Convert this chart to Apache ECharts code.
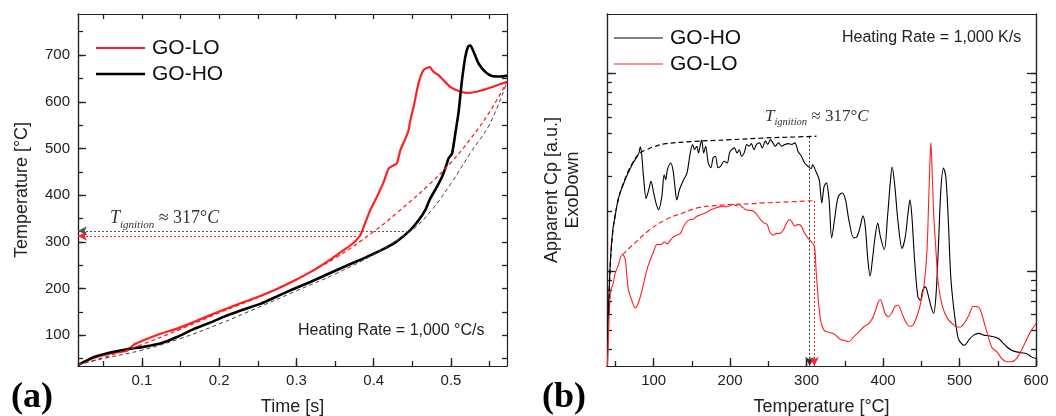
<!DOCTYPE html>
<html><head><meta charset="utf-8">
<script src="https://cdn.jsdelivr.net/npm/echarts@6/dist/echarts.min.js"></script>
<style>html,body{margin:0;padding:0;background:#fff}#c{width:1056px;height:416px}</style>
</head><body><div id="c"></div>
<script>
// ---------- Panel (a): temperature vs time ----------
const loTime = [0.0172,0.0373,0.059,0.0806,0.09,0.102,0.1237,0.1453,0.1668,0.1884,0.21,0.2315,0.2531,0.2748,0.2962,0.3179,0.3394,0.361,0.374,0.3826,0.387,0.3955,0.404,0.4128,0.4193,0.4257,0.430,0.4344,0.441,0.4451,0.4473,0.4516,0.458,0.4645,0.4723,0.4775,0.484,0.4904,0.499,0.51,0.5207,0.5315,0.5466,0.564,0.5725];
const loTemp = [37,51,61,67,80,89,103,114,128,143,157,171,184,199,216,235,257,282,298,314,332,368,396,428,457,464,468,496,521,539,560,589,640,668,674,664,657,646,632,623,619,621,628,638,643];
const hoTime = [0.0172,0.0373,0.059,0.0806,0.102,0.1237,0.1453,0.1668,0.1884,0.21,0.2315,0.2531,0.2748,0.2962,0.3179,0.3394,0.361,0.3848,0.4085,0.430,0.4473,0.458,0.4667,0.4732,0.4819,0.4883,0.4926,0.4969,0.5013,0.5056,0.51,0.5142,0.5185,0.522,0.525,0.5293,0.5357,0.5444,0.553,0.5638,0.5725];
const hoTemp = [36,53,63,70,75,82,96,113,127,142,155,167,183,199,214,230,246,263,281,301,325,346,368,393,418,439,457,479,489,532,580,646,696,718,721,707,682,664,655,654,656];
const loFitTime = [0.0172,0.05,0.1,0.15,0.2,0.25,0.3,0.35,0.4,0.43,0.47,0.5,0.525,0.55,0.5725];
const loFitTemp = [37,52,80,113,148,181,220,265,322,362,420,470,520,578,643];
const hoFitTime = [0.0172,0.05,0.1,0.15,0.2,0.25,0.3,0.35,0.4,0.45,0.475,0.5,0.525,0.55,0.5725];
const hoFitTemp = [37,50,68,93,124,159,195,231,273,326,368,425,490,552,643];
const ignitionHO = {temp: 323.6, time: 0.447};
const ignitionLO = {temp: 312.5, time: 0.379};
const timeTicks = [0.1,0.2,0.3,0.4,0.5];
const timeAll = [0.05,0.1,0.15,0.2,0.25,0.3,0.35,0.4,0.45,0.5,0.55];
const tempTicks = [100,200,300,400,500,600,700];
const tempAll = [50,100,150,200,250,300,350,400,450,500,550,600,650,700,750];
const timeRange = [0.0172, 0.5725];
const tempRange = [34, 788];

// ---------- Panel (b): apparent Cp vs temperature ----------
const hoCpT = [39.5,40.6,42.3,44.0,46.6,49.6,52.6,56.0,60.3,64.5,68.8,73.1,77.3,80.8,82.5,84.2,86.7,90.2,93.6,96.6,99.6,103.0,106.4,110.7,113.7,115.8,118.0,122.2,125.2,127.8,130.3,133.8,139.3,143.6,147.9,150.9,153.4,156.4,158.6,160.7,162.8,165.4,168.0,171.4,174.8,177.8,180.8,184.2,187.6,191.9,196.2,199.2,202.1,205.6,209.0,212.0,215.0,218.4,221.8,224.8,227.8,231.2,234.6,238.5,241.9,246.2,249.2,252.6,256.0,259.0,263.3,267.5,271.8,276.1,280.4,284.6,288.9,293.2,297.5,301.7,306.0,308.0,312.2,316.5,319.9,322.9,325.9,329.4,332.8,337.1,341.4,346.6,350.9,355.2,361.6,365.9,370.2,373.7,376.7,380.1,383.1,386.1,389.6,393.0,396.5,401.6,405.9,409.4,411.9,415.4,419.7,424.8,429.1,432.6,435.2,437.7,441.2,445.5,448.9,451.9,455.4,458.4,462.7,466.1,469.1,472.2,475.6,479.0,482.0,485.1,488.5,492.8,498.0,502.3,506.6,512.1,518.6,525.1,531.5,538.0,544.4,550.9,555.2,561.6,568.1,574.5,581.0,587.4,593.9,600];
const hoCp = [0.33,0.56,0.90,1.23,1.61,1.89,2.21,2.48,2.74,3.01,3.26,3.52,3.74,3.96,4.25,3.96,3.01,2.33,2.58,2.84,2.53,2.21,2.04,2.38,3.07,2.90,3.26,3.52,3.26,2.68,2.29,2.58,2.90,3.13,3.96,4.37,4.11,4.28,3.96,4.28,4.60,3.96,4.28,3.52,3.33,3.74,3.81,3.33,3.39,3.59,3.52,3.96,4.11,4.20,3.96,4.11,3.81,3.96,4.37,4.28,4.41,4.11,4.37,4.45,4.20,4.54,4.37,4.62,4.45,4.28,4.45,4.28,4.37,4.41,4.37,4.45,4.03,3.81,3.52,3.39,3.30,3.45,3.19,2.90,2.21,2.68,2.79,2.29,1.47,1.89,2.38,2.48,2.29,1.82,1.47,1.49,1.68,1.90,1.68,1.14,0.94,1.14,1.49,1.75,1.49,1.28,1.89,2.79,3.36,2.68,1.75,1.30,1.49,1.96,2.29,1.89,1.14,0.74,0.71,0.80,0.83,0.77,0.66,0.61,0.74,1.28,2.58,3.32,3.01,1.89,0.94,0.63,0.46,0.43,0.42,0.447,0.473,0.483,0.473,0.470,0.464,0.455,0.438,0.413,0.397,0.389,0.385,0.382,0.367,0.36];
const loCpT = [39.5,41,42.3,44,46.6,49.6,53.9,56.9,59.4,62.9,65,67.2,71.4,75.7,79.5,83.8,88,92.3,96.6,100.9,103,105.1,109.4,113.7,118,122.2,126.5,130.8,135,139.3,143.6,147.9,152.1,156.4,160.7,165,169.2,173.5,177.8,182.1,186.3,190.6,194.9,199.2,203.4,207.7,212,215,220.5,224.8,231.2,235.5,239.8,244,248.3,251.7,256,261.1,265.4,269.6,273.9,277.4,280.4,284.6,288.9,293.2,297.5,301.7,306,310.3,312.4,315.8,318.8,322.9,327.2,333.7,338,344.4,350.9,355.2,361.6,368.1,374.5,381,386.1,390.4,393.9,396.5,399.5,402.5,406.8,411.1,415.4,419.7,423.1,428.3,434.7,439,443.3,447.6,451.9,454.9,457.5,459.7,461.8,462.6,464.2,466,469.1,472.2,477.7,484.2,490.6,497.1,501.4,505.7,512.1,517.7,522.9,527.2,531.5,535.8,542.3,548.7,555.2,561.6,568.1,574.5,581,587.4,593.9,600];
const loCp = [0.33,0.48,0.66,0.80,0.85,0.97,1.07,1.18,1.21,1.14,0.94,0.80,0.71,0.65,0.68,0.77,0.90,1.05,1.16,1.28,1.35,1.36,1.36,1.40,1.37,1.44,1.49,1.52,1.55,1.68,1.78,1.82,1.83,1.89,1.92,1.95,1.98,2.03,2.06,2.09,2.11,2.12,2.11,2.14,2.17,2.14,2.17,2.12,2.04,2.03,2.00,1.92,1.82,1.75,1.72,1.58,1.52,1.55,1.55,1.61,1.75,1.82,1.78,1.69,1.72,1.68,1.55,1.47,1.41,1.33,1.01,0.68,0.55,0.50,0.49,0.483,0.473,0.45,0.443,0.438,0.464,0.49,0.52,0.54,0.575,0.634,0.70,0.715,0.67,0.61,0.586,0.61,0.66,0.67,0.634,0.565,0.525,0.53,0.575,0.65,0.77,0.94,1.28,2.29,4.0,4.45,3.2,2.0,1.28,0.866,0.66,0.575,0.54,0.52,0.52,0.54,0.595,0.66,0.66,0.634,0.56,0.49,0.41,0.39,0.36,0.347,0.347,0.36,0.397,0.447,0.50,0.54];
const hoCpFitT = [41,43,46,50,55,60,66,72,78,84,90,100,116,150,201,244,288,313];
const hoCpFit = [0.6,1.0,1.5,1.95,2.4,2.75,3.15,3.5,3.8,4.0,4.1,4.25,4.41,4.52,4.62,4.71,4.77,4.81];
const loCpFitT = [59.4,73.1,94.4,115.8,137.2,158.6,180,201.3,227,244,269.6,312];
const loCpFit = [1.21,1.36,1.61,1.82,1.96,2.09,2.14,2.17,2.19,2.21,2.23,2.27];
const onsetHO = {temp: 304, cp: 4.78};
const onsetLO = {temp: 310, cp: 2.26};
const cpTempTicks = [100,200,300,400,500,600];
const cpTempAll = [50,100,150,200,250,300,350,400,450,500,550,600];
const cpMajor = [1,10];
const cpAll = [0.4,0.5,0.6,0.7,0.8,0.9,1,2,3,4,5,6,7,8,9,10];
const cpTempRange = [39, 600];
const cpRange = [0.33, 20];

const RED = '#ff2020', BLACK = '#000000', AX = '#222222';
const SANS = '"Liberation Sans", Arial, sans-serif';
const SERIF = '"Liberation Serif", "Times New Roman", serif';
const zip = (a, b) => a.map((v, i) => [v, b[i]]);

const lineOn = {show: true, onZero: false, lineStyle: {color: AX, width: 1.2}};
function ax(extra) {
  return Object.assign({
    type: 'value', splitLine: {show: false},
    axisLine: lineOn,
    axisTick: {show: false}, axisLabel: {show: false}
  }, extra);
}
function tk(values, len) {
  return {show: true, inside: true, length: len, customValues: values, lineStyle: {color: AX, width: 1.3}};
}
const labelStyle = {fontSize: 15, color: '#222', fontFamily: SANS};
const nameStyle = {fontSize: 18, color: '#222', fontFamily: SANS};

function ignitionRich(size, sub) {
  const pad = [0, 0, Math.round(size * 0.2), 0];
  return {
    t: {fontSize: size, fontStyle: 'italic', fontFamily: SERIF, verticalAlign: 'bottom', padding: pad},
    s: {fontSize: sub, fontStyle: 'italic', fontFamily: SERIF, verticalAlign: 'bottom'},
    r: {fontSize: size, fontFamily: SERIF, verticalAlign: 'bottom', padding: pad},
    c: {fontSize: size, fontStyle: 'italic', fontFamily: SERIF, verticalAlign: 'bottom', padding: pad}
  };
}
function legendItem(x1, x2, y, color, width, label) {
  return [
    {type: 'line', shape: {x1: x1, y1: y, x2: x2, y2: y}, style: {stroke: color, lineWidth: width}},
    {type: 'text', x: x2 + 7, y: y, style: {text: label, fontSize: 21, fontFamily: SANS, fill: '#111', verticalAlign: 'middle'}}
  ];
}
const gridA = {left: 78, top: 14, width: 429, height: 352, containLabel: false, outerBoundsMode: 'none'};
const gridB = {left: 607, top: 14, width: 429, height: 352, containLabel: false, outerBoundsMode: 'none'};

const chart = echarts.init(document.getElementById('c'), null, {renderer: 'canvas'});
chart.setOption({
  animation: false,
  backgroundColor: '#fff',
  // grids 2 and 3 overlay grids 0 and 1 and only carry the longer major ticks
  grid: [gridA, gridB, Object.assign({}, gridA), Object.assign({}, gridB)],
  xAxis: [
    ax({gridIndex: 0, position: 'bottom', min: timeRange[0], max: timeRange[1],
        axisTick: tk(timeAll, 5),
        axisLabel: Object.assign({show: true, customValues: timeTicks, margin: 7, formatter: v => v.toFixed(1)}, labelStyle),
        name: 'Time [s]', nameLocation: 'middle', nameGap: 32, nameTextStyle: nameStyle}),
    ax({gridIndex: 0, position: 'top', min: timeRange[0], max: timeRange[1], axisTick: tk(timeAll, 5)}),
    ax({gridIndex: 1, position: 'bottom', min: cpTempRange[0], max: cpTempRange[1],
        axisTick: tk(cpTempAll, 5),
        axisLabel: Object.assign({show: true, customValues: cpTempTicks, margin: 7}, labelStyle),
        name: 'Temperature [°C]', nameLocation: 'middle', nameGap: 32, nameTextStyle: nameStyle}),
    ax({gridIndex: 1, position: 'top', min: cpTempRange[0], max: cpTempRange[1]}),
    ax({gridIndex: 2, position: 'bottom', min: timeRange[0], max: timeRange[1], axisTick: tk(timeTicks, 8)}),
    ax({gridIndex: 3, position: 'bottom', min: cpTempRange[0], max: cpTempRange[1], axisTick: tk(cpTempTicks, 8)})
  ],
  yAxis: [
    ax({gridIndex: 0, position: 'left', min: tempRange[0], max: tempRange[1],
        axisTick: tk(tempAll, 5),
        axisLabel: Object.assign({show: true, customValues: tempTicks, margin: 8}, labelStyle),
        name: 'Temperature [°C]', nameLocation: 'middle', nameRotate: 90, nameGap: 47, nameTextStyle: nameStyle}),
    ax({gridIndex: 0, position: 'right', min: tempRange[0], max: tempRange[1], axisTick: tk(tempAll, 5)}),
    ax({gridIndex: 1, type: 'log', logBase: 10, position: 'left', min: cpRange[0], max: cpRange[1],
        axisTick: tk(cpAll, 5),
        name: 'Apparent Cp [a.u.]\nExoDown', nameLocation: 'middle', nameRotate: 90, nameGap: 23,
        nameTextStyle: Object.assign({lineHeight: 21, align: 'center'}, nameStyle)}),
    ax({gridIndex: 1, type: 'log', logBase: 10, position: 'right', min: cpRange[0], max: cpRange[1], axisTick: tk(cpAll, 5)}),
    ax({gridIndex: 2, position: 'left', min: tempRange[0], max: tempRange[1], axisTick: tk(tempTicks, 8)}),
    ax({gridIndex: 3, type: 'log', logBase: 10, position: 'left', min: cpRange[0], max: cpRange[1], axisTick: tk(cpMajor, 9)}),
    ax({gridIndex: 3, type: 'log', logBase: 10, position: 'right', min: cpRange[0], max: cpRange[1], axisTick: tk(cpMajor, 9)})
  ],
  series: [
    {name: 'GO-LO', type: 'line', xAxisIndex: 0, yAxisIndex: 0, data: zip(loTime, loTemp), symbol: 'none', smooth: 0.2,
     lineStyle: {color: RED, width: 2.2}, itemStyle: {color: RED}, z: 3},
    {name: 'GO-HO', type: 'line', xAxisIndex: 0, yAxisIndex: 0, data: zip(hoTime, hoTemp), symbol: 'none', smooth: 0.2,
     lineStyle: {color: BLACK, width: 2.6}, itemStyle: {color: BLACK}, z: 3},
    {name: 'GO-LO baseline', type: 'line', xAxisIndex: 0, yAxisIndex: 0, data: zip(loFitTime, loFitTemp), symbol: 'none', smooth: 0.4,
     lineStyle: {color: RED, width: 1.3, type: [4, 3]}, z: 4,
     markLine: {silent: true, symbol: ['arrow', 'none'], symbolSize: [7, 9], label: {show: false},
       lineStyle: {color: RED, width: 1, type: [2, 2]},
       data: [[{coord: [timeRange[0], ignitionLO.temp]}, {coord: [ignitionLO.time, ignitionLO.temp]}]]}},
    {name: 'GO-HO baseline', type: 'line', xAxisIndex: 0, yAxisIndex: 0, data: zip(hoFitTime, hoFitTemp), symbol: 'none', smooth: 0.4,
     lineStyle: {color: '#444', width: 1, type: [4, 3]}, z: 4,
     markLine: {silent: true, symbol: ['arrow', 'none'], symbolSize: [7, 9], label: {show: false},
       lineStyle: {color: '#555', width: 1, type: [2, 2]},
       data: [[{coord: [timeRange[0], ignitionHO.temp]}, {coord: [ignitionHO.time, ignitionHO.temp]}]]}},
    {name: 'GO-HO', type: 'line', xAxisIndex: 2, yAxisIndex: 2, data: zip(hoCpT, hoCp), symbol: 'none', smooth: 0.3,
     lineStyle: {color: BLACK, width: 1.1}, itemStyle: {color: BLACK}, z: 3},
    {name: 'GO-LO', type: 'line', xAxisIndex: 2, yAxisIndex: 2, data: zip(loCpT, loCp), symbol: 'none', smooth: 0.3,
     lineStyle: {color: RED, width: 1.1}, itemStyle: {color: RED}, z: 3},
    {name: 'GO-HO Cp baseline', type: 'line', xAxisIndex: 2, yAxisIndex: 2, data: zip(hoCpFitT, hoCpFit), symbol: 'none', smooth: 0.4,
     lineStyle: {color: BLACK, width: 1.2, type: [5, 3]}, z: 4,
     markLine: {silent: true, symbol: ['none', 'arrow'], symbolSize: [7, 9], label: {show: false},
       lineStyle: {color: '#333', width: 1, type: [2, 2]},
       data: [[{coord: [onsetHO.temp, onsetHO.cp]}, {coord: [onsetHO.temp, cpRange[0]]}]]}},
    {name: 'GO-LO Cp baseline', type: 'line', xAxisIndex: 2, yAxisIndex: 2, data: zip(loCpFitT, loCpFit), symbol: 'none', smooth: 0.4,
     lineStyle: {color: RED, width: 1.2, type: [5, 3]}, z: 4,
     markLine: {silent: true, symbol: ['none', 'arrow'], symbolSize: [7, 9], label: {show: false},
       lineStyle: {color: RED, width: 1, type: [2, 2]},
       data: [[{coord: [onsetLO.temp, onsetLO.cp]}, {coord: [onsetLO.temp, cpRange[0]]}]]}}
  ],
  graphic: [].concat(
    legendItem(96, 145, 48, RED, 2.2, 'GO-LO'),
    legendItem(96, 145, 74, BLACK, 2.6, 'GO-HO'),
    legendItem(614, 663, 38, BLACK, 1.1, 'GO-HO'),
    legendItem(614, 663, 64, RED, 1.1, 'GO-LO'),
    [
      {type: 'text', left: 11, top: 380, style: {text: '(a)', fontSize: 36, fontWeight: 'bold', fontFamily: SERIF, fill: '#000'}},
      {type: 'text', left: 542, top: 380, style: {text: '(b)', fontSize: 36, fontWeight: 'bold', fontFamily: SERIF, fill: '#000'}},
      {type: 'text', left: 298, top: 323, style: {text: 'Heating Rate = 1,000 °C/s', fontSize: 16, fontFamily: SANS, fill: '#222'}},
      {type: 'text', left: 842, top: 30, style: {text: 'Heating Rate = 1,000 K/s', fontSize: 16, fontFamily: SANS, fill: '#222'}},
      {type: 'text', left: 110, top: 209, style: {text: '{t|T}{s|ignition}{r| ≈ 317°}{c|C}', fill: '#333', rich: ignitionRich(18, 11)}},
      {type: 'text', left: 765, top: 108, style: {text: '{t|T}{s|ignition}{r| ≈ 317°}{c|C}', fill: '#333', rich: ignitionRich(17, 10.5)}}
    ]
  )
});
</script>
</body></html>
